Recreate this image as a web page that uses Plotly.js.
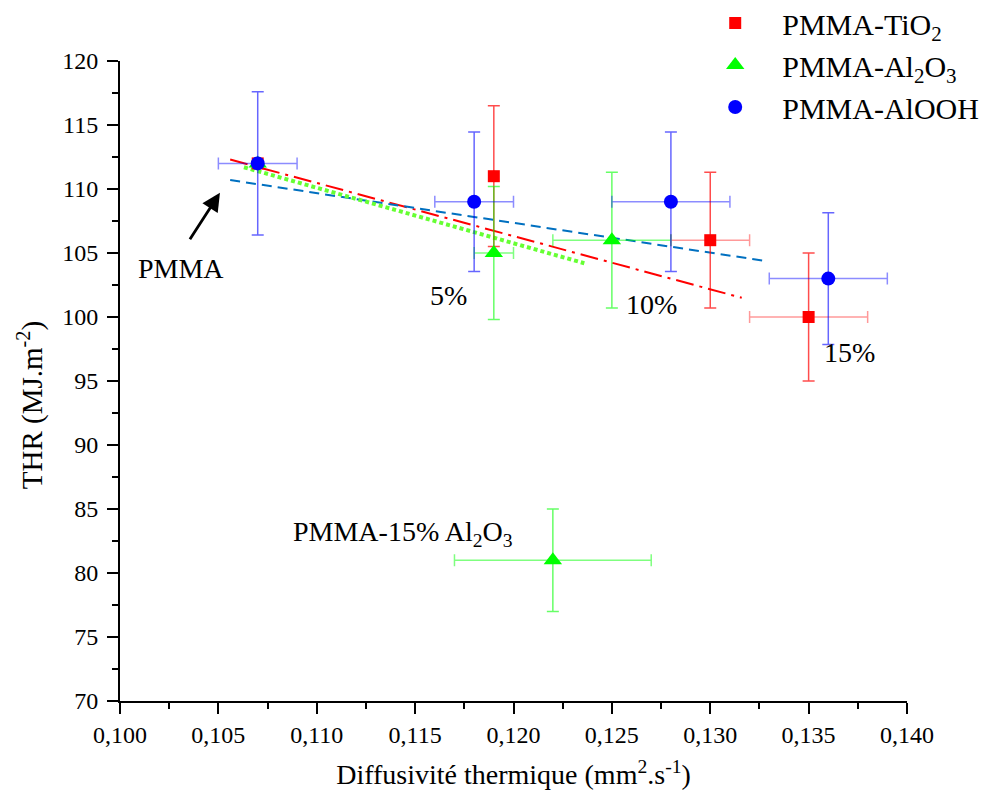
<!DOCTYPE html>
<html>
<head>
<meta charset="utf-8">
<script src="https://cdn.plot.ly/plotly-3.0.1.min.js"></script>
<style>body{margin:0;background:#fff}#chart{width:982px;height:800px}</style>
</head>
<body>
<div id="chart"></div>
<script>
// ---- data ----
const tio2X = [0.107, 0.119, 0.130, 0.135];
const tio2Y = [112, 111, 106, 100];
const tio2ErrX = [0, 0, 0.002, 0.003];
const tio2ErrY = [0, 5.5, 5.3, 5.0];

const al2o3X = [0.107, 0.119, 0.125, 0.122];
const al2o3Y = [112, 105, 106, 81];
const al2o3ErrX = [0, 0.001, 0.003, 0.005];
const al2o3ErrY = [0, 5.2, 5.3, 4.0];

const aloohX = [0.107, 0.118, 0.128, 0.136];
const aloohY = [112, 109, 109, 103];
const aloohErrX = [0.002, 0.002, 0.003, 0.003];
const aloohErrY = [5.6, 5.45, 5.45, 5.15];

// linear fits (end points)
const fitTiO2X = [0.1056, 0.1316];
const fitTiO2Y = [112.3, 101.5];
const fitAlOOHX = [0.1056, 0.1327];
const fitAlOOHY = [110.7, 104.4];
const fitAl2O3X = [0.1063, 0.1236];
const fitAl2O3Y = [111.7, 104.2];

const seriesNames = ['PMMA-TiO<sub>2</sub>', 'PMMA-Al<sub>2</sub>O<sub>3</sub>', 'PMMA-AlOOH'];

// labels
const labelTexts = ['PMMA', '5%', '10%', '15%', 'PMMA-15% Al<sub>2</sub>O<sub>3</sub>'];
const labelX = [0.1031, 0.1167, 0.1270, 0.1371, 0.1144];
const labelY = [103.8, 101.7, 101.0, 97.2, 83.1];
const arrowHead = [0.10508, 109.7];

const xTitle = 'Diffusivité thermique (mm<sup>2</sup>.s<sup>-1</sup>)';
const yTitle = 'THR (MJ.m<sup>-2</sup>)';

const FONT = 'Liberation Serif';

const traces = [
  {x: fitTiO2X, y: fitTiO2Y, mode: 'lines', showlegend: false, hoverinfo: 'skip',
   line: {color: '#ff0000', width: 2, dash: '18px,6px,3px,6px'}},
  {x: fitAlOOHX, y: fitAlOOHY, mode: 'lines', showlegend: false, hoverinfo: 'skip',
   line: {color: '#0070c0', width: 2, dash: '10px,6px'}},
  {x: fitAl2O3X, y: fitAl2O3Y, mode: 'lines', showlegend: false, hoverinfo: 'skip',
   line: {color: '#66ff33', width: 4, dash: '4px,3px'}},
  {x: tio2X, y: tio2Y, mode: 'markers', name: seriesNames[0],
   marker: {symbol: 'square', size: 12, color: '#ff0000'},
   error_y: {type: 'data', array: tio2ErrY, visible: true, color: 'rgba(255,0,0,0.7)', thickness: 1.5, width: 6},
   error_x: {type: 'data', array: tio2ErrX, visible: true, color: 'rgba(255,0,0,0.4)', thickness: 1.5, width: 6}},
  {x: al2o3X, y: al2o3Y, mode: 'markers', name: seriesNames[1],
   marker: {symbol: 'triangle-up', size: 16, color: '#00ff00'},
   error_y: {type: 'data', array: al2o3ErrY, visible: true, color: 'rgba(0,255,0,0.6)', thickness: 1.5, width: 6},
   error_x: {type: 'data', array: al2o3ErrX, visible: true, color: 'rgba(0,255,0,0.5)', thickness: 1.5, width: 6}},
  {x: aloohX, y: aloohY, mode: 'markers', name: seriesNames[2],
   marker: {symbol: 'circle', size: 14, color: '#0000ff'},
   error_y: {type: 'data', array: aloohErrY, visible: true, color: 'rgba(0,0,255,0.6)', thickness: 1.5, width: 6},
   error_x: {type: 'data', array: aloohErrX, visible: true, color: 'rgba(0,0,255,0.45)', thickness: 1.5, width: 6}}
];

const annotations = labelTexts.map((t, i) => ({
  x: labelX[i], y: labelY[i], xref: 'x', yref: 'y', text: t, showarrow: false,
  font: {family: FONT, size: 28, color: '#000'}
}));
annotations.push({
  x: arrowHead[0], y: arrowHead[1], xref: 'x', yref: 'y', text: '', showarrow: true,
  ax: -31, ay: 48, arrowhead: 2, arrowsize: 1.3, arrowwidth: 2.8, arrowcolor: '#000'
});
// y axis title, placed as in the reference (slightly below the axis middle)
annotations.push({
  x: -0.114, y: 0.4625, xref: 'paper', yref: 'paper', text: yTitle, textangle: -90,
  showarrow: false, xanchor: 'center', yanchor: 'middle',
  font: {family: FONT, size: 29, color: '#000'}
});

function axisBase() {
  return {
    showline: true, linecolor: '#000', linewidth: 2, mirror: false,
    showgrid: false, zeroline: false,
    ticks: 'outside', ticklen: 11, tickwidth: 2, tickcolor: '#000',
    tickfont: {family: 'Liberation Serif', size: 24, color: '#000'}
  };
}

const layout = {
  width: 982, height: 800,
  margin: {l: 120, r: 75, t: 61, b: 99, autoexpand: false},
  paper_bgcolor: '#fff', plot_bgcolor: '#fff',
  separators: ',.',
  font: {family: FONT, color: '#000', size: 24},
  xaxis: Object.assign(axisBase(), {
    range: [0.100, 0.140], dtick: 0.005, tick0: 0.1, tickformat: '.3f',
    minor: {dtick: 0.0025, ticklen: 6, tickwidth: 2, tickcolor: '#000', ticks: 'outside'},
    title: {text: xTitle, font: {family: FONT, size: 28, color: '#000'}, standoff: 18}
  }),
  yaxis: Object.assign(axisBase(), {
    range: [70, 120], dtick: 5, tick0: 70, ticklabelstandoff: 4,
    minor: {dtick: 2.5, ticklen: 6, tickwidth: 2, tickcolor: '#000', ticks: 'outside'}
  }),
  showlegend: true,
  legend: {
    x: 0.722, y: 1.1, xanchor: 'left', yanchor: 'top',
    font: {family: FONT, size: 30, color: '#000'},
    bgcolor: 'rgba(0,0,0,0)', itemwidth: 84, tracegroupgap: 0
  },
  annotations: annotations
};

Plotly.newPlot('chart', traces, layout, {displayModeBar: false, staticPlot: true});
</script>
</body>
</html>
